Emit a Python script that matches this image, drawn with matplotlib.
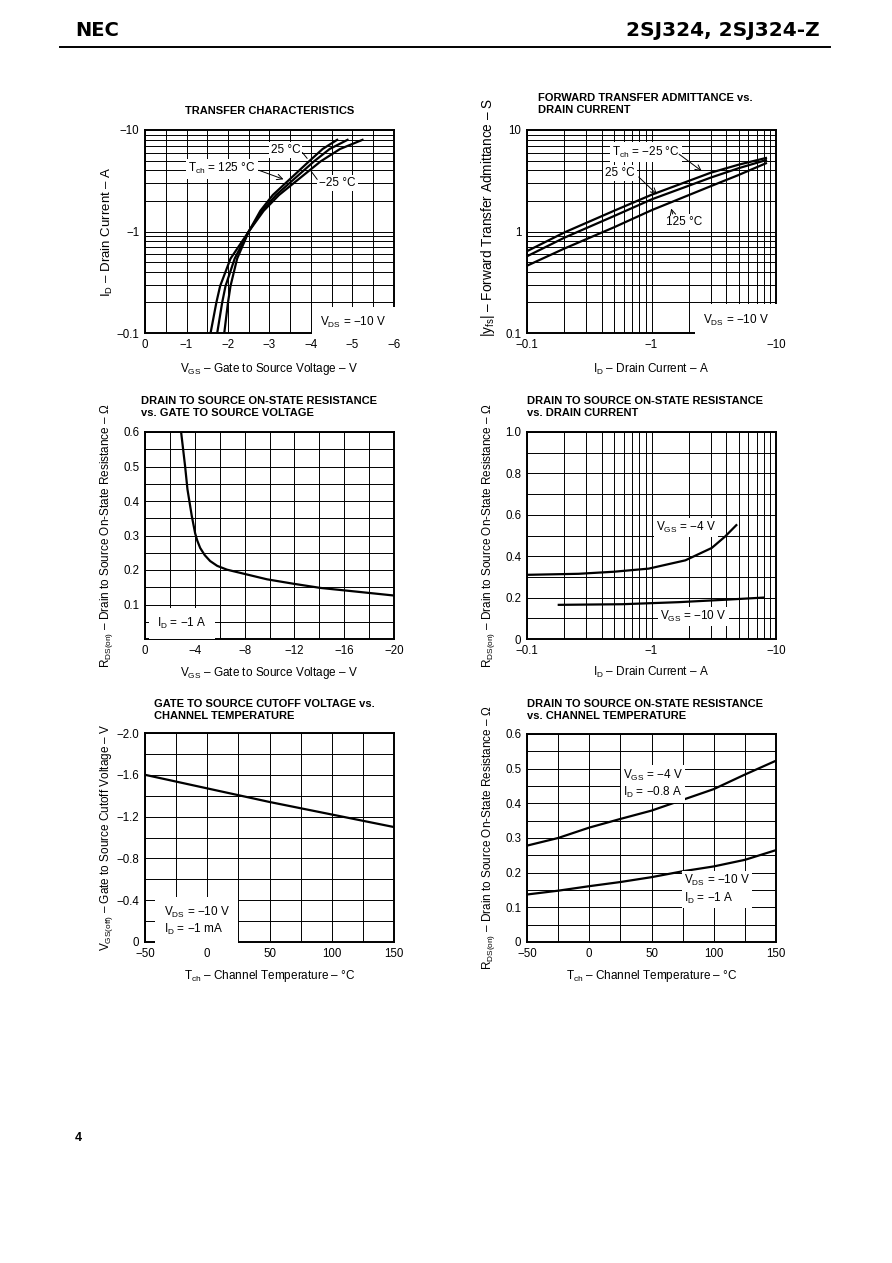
import matplotlib
matplotlib.use('Agg')
import matplotlib.pyplot as plt
import numpy as np
from matplotlib.ticker import MultipleLocator, LogLocator, NullFormatter

plt.rcParams['font.family'] = ['Liberation Sans', 'DejaVu Sans']
plt.rcParams['mathtext.fontset'] = 'custom'
plt.rcParams['mathtext.rm'] = 'Liberation Sans'
plt.rcParams['mathtext.it'] = 'Liberation Sans'
plt.rcParams['mathtext.bf'] = 'Liberation Sans:bold'

# ---- data (magnitudes; the sheet labels them negative) ----
# transfer characteristics: |VGS| (V) vs |ID| (A)
id_tr = [0.1, 0.2, 0.29, 0.54, 1.0, 1.6, 2.29, 4.9, 6.5, 8.0]
vgs_m25 = [1.91, 2.00, 2.06, 2.22, 2.5, 2.78, 3.08, 3.95, 4.28, 4.63]
vgs_25 = [1.74, 1.86, 1.94, 2.16, 2.5, 2.82, 3.16, 4.07, 4.45, 4.88]
vgs_125 = [1.58, 1.72, 1.81, 2.06, 2.5, 2.86, 3.23, 4.23, 4.70, 5.24]

# forward transfer admittance: |ID| (A) vs |yfs| (S)
id_yfs = [0.1, 0.2, 0.5, 1.0, 3.0, 5.0, 8.3]
yfs_m25 = [0.64, 0.98, 1.60, 2.30, 3.80, 4.55, 5.30]
yfs_25 = [0.57, 0.87, 1.42, 2.07, 3.40, 4.20, 5.05]
yfs_125 = [0.46, 0.68, 1.10, 1.62, 2.80, 3.60, 4.70]

# RDS(on) vs |VGS|
vgs_r = [2.9, 3.22, 3.41, 3.76, 4.03, 4.2, 4.43, 4.8, 5.23, 5.8, 6.58, 8.19, 9.8, 11.95, 14.1, 16.8, 20.0]
rds_vgs = [0.6, 0.501, 0.434, 0.356, 0.306, 0.285, 0.264, 0.243, 0.226, 0.212, 0.201, 0.187, 0.173,
           0.160, 0.148, 0.138, 0.126]

# RDS(on) vs |ID|
id_r4 = [0.1, 0.26, 0.5, 0.95, 1.87, 3.05, 3.9, 4.8]
rds_id4 = [0.31, 0.315, 0.325, 0.34, 0.38, 0.44, 0.495, 0.55]
id_r10 = [0.18, 0.58, 1.66, 4.0, 7.9]
rds_id10 = [0.165, 0.168, 0.178, 0.19, 0.2]

# VGS(off) vs Tch
tch_off = [-50, 0, 50, 100, 150]
vgs_off = [1.60, 1.47, 1.34, 1.22, 1.10]

# RDS(on) vs Tch
tch_r = [-50, -25, 0, 25, 50, 75, 100, 125, 150]
rds_t4 = [0.278, 0.300, 0.330, 0.355, 0.379, 0.41, 0.441, 0.483, 0.523]
rds_t10 = [0.137, 0.148, 0.161, 0.173, 0.187, 0.204, 0.218, 0.237, 0.265]

W, H = 892, 1263
fig = plt.figure(figsize=(W / 100, H / 100), dpi=100)
fig.patch.set_facecolor('white')

FS = 8.5       # in-plot text, axis labels
TFS = 8.3      # tick labels
TTL = 8.0      # titles
R_LABEL = r'R$\mathregular{_{DS(on)}}$ – Drain to Source On-State Resistance – Ω'
ID_LABEL = r'I$\mathregular{_D}$ – Drain Current – A'
VGS_LABEL = r'V$\mathregular{_{GS}}$ – Gate to Source Voltage – V'
T_LABEL = r'T$\mathregular{_{ch}}$ – Channel Temperature – °C'


def add_ax(l, t, r, b):
    return fig.add_axes([l / W, 1 - b / H, (r - l) / W, (b - t) / H])


def ftext(x, y, s, **kw):
    fig.text(x / W, 1 - y / H, s, **kw)


def style(ax, xlabel, ylabel, xl_y, yl_size=8.5, yl_pos=0.5):
    for s in ax.spines.values():
        s.set_linewidth(1.4)
    ax.tick_params(which='both', length=0, labelsize=TFS, pad=4)
    ax.grid(which='both', color='black', linewidth=0.7)
    ax.set_axisbelow(True)
    ax.set_xlabel(xlabel, fontsize=FS)
    ax.set_ylabel(ylabel, fontsize=yl_size)
    ax.xaxis.set_label_coords(0.5, xl_y)
    ax.yaxis.set_label_coords(-0.12, yl_pos)


box = dict(fc='white', ec='none', pad=1.5)
LW = 1.6
L1, R1, L2, R2 = 145, 394, 527, 776

# ---- 1: transfer characteristics ----
ax = add_ax(L1, 130, R1, 333)
ax.set_yscale('log')
ax.plot(vgs_m25, id_tr, color='black', lw=LW)
ax.plot(vgs_25, id_tr, color='black', lw=LW)
ax.plot(vgs_125, id_tr, color='black', lw=LW)
ax.set_xlim(0, 6)
ax.set_ylim(0.1, 10)
ax.set_xticks(range(7))
ax.set_xticklabels(['0'] + ['−%d' % i for i in range(1, 7)])
ax.xaxis.set_minor_locator(MultipleLocator(0.5))
ax.set_yticks([0.1, 1, 10])
ax.set_yticklabels(['−0.1', '−1', '−10'])
ax.yaxis.set_minor_locator(LogLocator(subs=np.arange(2, 10)))
ax.yaxis.set_minor_formatter(NullFormatter())
style(ax, VGS_LABEL, ID_LABEL, -0.14, 9.5)
ax.text(3.03, 6.4, '25 °C', fontsize=FS, va='center', bbox=box)
ax.annotate('', xy=(3.95, 5.0), xytext=(3.75, 6.3),
            arrowprops=dict(arrowstyle='-', lw=0.7))
ax.text(2.67, 4.14, r'T$\mathregular{_{ch}}$ = 125 °C', fontsize=FS, ha='right', va='center', bbox=box)
ax.annotate('', xy=(3.4, 3.2), xytext=(2.68, 4.1),
            arrowprops=dict(arrowstyle='->', lw=0.7))
ax.text(4.19, 3.0, '−25 °C', fontsize=FS, va='center', bbox=box)
ax.annotate('', xy=(3.95, 4.2), xytext=(4.19, 3.1),
            arrowprops=dict(arrowstyle='-', lw=0.7))
ax.text(4.22, 0.127, r'V$\mathregular{_{DS}}$ = −10 V', fontsize=FS, va='center',
        bbox=dict(fc='white', ec='none', pad=6))
ftext(270, 111, 'TRANSFER CHARACTERISTICS', fontsize=TTL, fontweight='bold', ha='center', va='center')

# ---- 2: forward transfer admittance ----
ax = add_ax(L2, 130, R2, 333)
ax.set_xscale('log')
ax.set_yscale('log')
ax.plot(id_yfs, yfs_m25, color='black', lw=LW)
ax.plot(id_yfs, yfs_25, color='black', lw=LW)
ax.plot(id_yfs, yfs_125, color='black', lw=LW)
ax.set_xlim(0.1, 10)
ax.set_ylim(0.1, 10)
ax.set_xticks([0.1, 1, 10])
ax.set_xticklabels(['−0.1', '−1', '−10'])
ax.set_yticks([0.1, 1, 10])
ax.set_yticklabels(['0.1', '1', '10'])
for a in (ax.xaxis, ax.yaxis):
    a.set_minor_locator(LogLocator(subs=np.arange(2, 10)))
    a.set_minor_formatter(NullFormatter())
style(ax, ID_LABEL, r'|y$\mathregular{_{fs}}$| – Forward Transfer Admittance – S', -0.14, 9.8, 0.57)
ax.text(0.48, 6.05, r'T$\mathregular{_{ch}}$ = −25 °C', fontsize=FS, va='center', bbox=box)
ax.annotate('', xy=(2.64, 3.79), xytext=(1.6, 6.0),
            arrowprops=dict(arrowstyle='->', lw=0.7))
ax.text(0.425, 3.79, '25 °C', fontsize=FS, va='center', bbox=box)
ax.annotate('', xy=(1.15, 2.22), xytext=(0.76, 3.6),
            arrowprops=dict(arrowstyle='->', lw=0.7))
ax.text(1.30, 1.23, '125 °C', fontsize=FS, va='center', bbox=box)
ax.annotate('', xy=(1.42, 1.79), xytext=(1.5, 1.4),
            arrowprops=dict(arrowstyle='->', lw=0.7))
ax.text(2.6, 0.133, r'V$\mathregular{_{DS}}$ = −10 V', fontsize=FS, va='center',
        bbox=dict(fc='white', ec='none', pad=6))
ftext(538, 93, 'FORWARD TRANSFER ADMITTANCE vs.\nDRAIN CURRENT', fontsize=TTL,
      fontweight='bold', ha='left', va='top', linespacing=1.3)

# ---- 3: RDS(on) vs VGS ----
ax = add_ax(L1, 432, R1, 639)
ax.plot(vgs_r, rds_vgs, color='black', lw=LW)
ax.set_xlim(0, 20)
ax.set_ylim(0, 0.6)
ax.set_xticks(range(0, 21, 4))
ax.set_xticklabels(['0'] + ['−%d' % i for i in range(4, 21, 4)])
ax.xaxis.set_minor_locator(MultipleLocator(2))
ax.set_yticks([0.1, 0.2, 0.3, 0.4, 0.5, 0.6])
ax.set_yticklabels(['0.1', '0.2', '0.3', '0.4', '0.5', '0.6'])
ax.yaxis.set_minor_locator(MultipleLocator(0.05))
style(ax, VGS_LABEL, R_LABEL, -0.125)
ax.text(1.0, 0.045, r'I$\mathregular{_D}$ = −1 A', fontsize=FS, va='center',
        bbox=dict(fc='white', ec='none', pad=6))
ftext(141, 396, 'DRAIN TO SOURCE ON-STATE RESISTANCE\nvs. GATE TO SOURCE VOLTAGE', fontsize=TTL,
      fontweight='bold', ha='left', va='top', linespacing=1.3)

# ---- 4: RDS(on) vs ID ----
ax = add_ax(L2, 432, R2, 639)
ax.set_xscale('log')
ax.plot(id_r4, rds_id4, color='black', lw=LW)
ax.plot(id_r10, rds_id10, color='black', lw=LW)
ax.set_xlim(0.1, 10)
ax.set_ylim(0, 1.0)
ax.set_xticks([0.1, 1, 10])
ax.set_xticklabels(['−0.1', '−1', '−10'])
ax.xaxis.set_minor_locator(LogLocator(subs=np.arange(2, 10)))
ax.xaxis.set_minor_formatter(NullFormatter())
ax.set_yticks([0, 0.2, 0.4, 0.6, 0.8, 1.0])
ax.set_yticklabels(['0', '0.2', '0.4', '0.6', '0.8', '1.0'])
ax.yaxis.set_minor_locator(MultipleLocator(0.1))
style(ax, ID_LABEL, R_LABEL, -0.125)
ax.text(1.08, 0.54, r'V$\mathregular{_{GS}}$ = −4 V', fontsize=FS, va='center', bbox=box)
ax.text(1.18, 0.11, r'V$\mathregular{_{GS}}$ = −10 V', fontsize=FS, va='center', bbox=box)
ftext(527, 396, 'DRAIN TO SOURCE ON-STATE RESISTANCE\nvs. DRAIN CURRENT', fontsize=TTL,
      fontweight='bold', ha='left', va='top', linespacing=1.3)

# ---- 5: VGS(off) vs Tch ----
ax = add_ax(L1, 733, R1, 942)
ax.plot(tch_off, vgs_off, color='black', lw=LW)
ax.set_xlim(-50, 150)
ax.set_ylim(0, 2.0)
ax.set_xticks(range(-50, 151, 50))
ax.set_xticklabels(['−50', '0', '50', '100', '150'])
ax.xaxis.set_minor_locator(MultipleLocator(25))
ax.set_yticks([0, 0.4, 0.8, 1.2, 1.6, 2.0])
ax.set_yticklabels(['0', '−0.4', '−0.8', '−1.2', '−1.6', '−2.0'])
ax.yaxis.set_minor_locator(MultipleLocator(0.2))
style(ax, T_LABEL, r'V$\mathregular{_{GS(off)}}$ – Gate to Source Cutoff Voltage – V', -0.125)
ax.text(-35, 0.2, 'V$\\mathregular{_{DS}}$ = −10 V\nI$\\mathregular{_D}$ = −1 mA', fontsize=FS,
        va='center', linespacing=1.15, bbox=dict(fc='white', ec='none', pad=6))
ftext(154, 699, 'GATE TO SOURCE CUTOFF VOLTAGE vs.\nCHANNEL TEMPERATURE', fontsize=TTL,
      fontweight='bold', ha='left', va='top', linespacing=1.3)

# ---- 6: RDS(on) vs Tch ----
ax = add_ax(L2, 734, R2, 942)
ax.plot(tch_r, rds_t4, color='black', lw=LW)
ax.plot(tch_r, rds_t10, color='black', lw=LW)
ax.set_xlim(-50, 150)
ax.set_ylim(0, 0.6)
ax.set_xticks(range(-50, 151, 50))
ax.set_xticklabels(['−50', '0', '50', '100', '150'])
ax.xaxis.set_minor_locator(MultipleLocator(25))
ax.set_yticks([0, 0.1, 0.2, 0.3, 0.4, 0.5, 0.6])
ax.set_yticklabels(['0', '0.1', '0.2', '0.3', '0.4', '0.5', '0.6'])
ax.yaxis.set_minor_locator(MultipleLocator(0.05))
style(ax, T_LABEL, R_LABEL, -0.125)
ax.text(27, 0.456, 'V$\\mathregular{_{GS}}$ = −4 V\nI$\\mathregular{_D}$ = −0.8 A', fontsize=FS,
        va='center', linespacing=1.25, bbox=box)
ax.text(76, 0.151, 'V$\\mathregular{_{DS}}$ = −10 V\nI$\\mathregular{_D}$ = −1 A', fontsize=FS,
        va='center', linespacing=1.25, bbox=box)
ftext(527, 699, 'DRAIN TO SOURCE ON-STATE RESISTANCE\nvs. CHANNEL TEMPERATURE', fontsize=TTL,
      fontweight='bold', ha='left', va='top', linespacing=1.3)

# ---- page header / footer ----
ftext(75, 31, 'NEC', fontsize=14, fontweight='bold', family='DejaVu Sans', ha='left', va='center')
ftext(820, 31, '2SJ324, 2SJ324-Z', fontsize=14.5, fontweight='bold', family='DejaVu Sans',
      ha='right', va='center')
fig.add_artist(plt.Line2D([60 / W, 830 / W], [1 - 47 / H, 1 - 47 / H], color='black', lw=1.4))
ftext(75, 1138, '4', fontsize=9, fontweight='bold', ha='left', va='center')

fig.savefig('out.png', dpi=100)
